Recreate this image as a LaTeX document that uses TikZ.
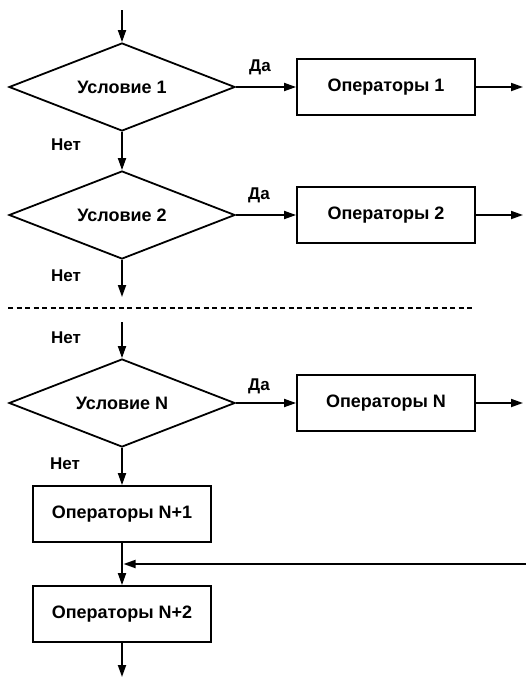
\documentclass[tikz,border=0pt]{standalone}
\usepackage{fontspec}
\setmainfont{Liberation Sans}
\usetikzlibrary{shapes.geometric,arrows.meta}
\tikzset{
  cond/.style={diamond,draw,line width=1.8pt,shape aspect=2.57,minimum width=226pt,minimum height=88pt,inner sep=0pt,font=\bfseries\fontsize{18}{20}\selectfont},
  opbox/.style={rectangle,draw,line width=1.8pt,minimum width=178pt,minimum height=56pt,inner sep=0pt,font=\bfseries\fontsize{18}{20}\selectfont},
  lbl/.style={font=\bfseries\fontsize{17}{19}\selectfont,inner sep=0pt},
  flow/.style={line width=1.8pt,-{Triangle[length=12pt,width=8pt]}}
}
\begin{document}
\begin{tikzpicture}[x=1pt,y=-1pt]
\useasboundingbox (0,0) rectangle (526,678);
% section 1
\coordinate (s1) at (122,10);
\node[cond] (d1) at (122,87) {Условие 1};
\node[opbox] (o1) at (386,87) {Операторы 1};
\coordinate (e1) at (523,87);
\node[cond] (d2) at (122,215) {Условие 2};
\node[opbox] (o2) at (386,215) {Операторы 2};
\coordinate (e2) at (523,215);
\coordinate (x2) at (122,297);
\draw[flow] (s1) -- (d1.north);
\draw[flow] (d1.south) -- (d2.north);
\draw[flow] (d1.east) -- (o1.west);
\draw[flow] (o1.east) -- (e1);
\draw[flow] (d2.east) -- (o2.west);
\draw[flow] (o2.east) -- (e2);
\draw[flow] (d2.south) -- (x2);
\node[lbl] (n1) at (66,145) {Нет};
\node[lbl] (y1) at (260,67) {Да};
\node[lbl] (n2) at (66,276) {Нет};
\node[lbl] (y2) at (259,195) {Да};
% separator
\coordinate (l1) at (8,308);
\coordinate (l2) at (474,308);
\draw[line width=2pt,dash pattern=on 5pt off 3.5pt] (l1) -- (l2);
% section N
\coordinate (sN) at (122,322);
\node[cond] (dN) at (122,403) {Условие N};
\node[opbox] (oN) at (386,403) {Операторы N};
\coordinate (eN) at (523,403);
\node[opbox] (oN1) at (122,514) {Операторы N+1};
\node[opbox] (oN2) at (122,614) {Операторы N+2};
\coordinate (r) at (526,564);
\coordinate (j) at (123.5,564);
\coordinate (xe) at (122,677);
\draw[flow] (sN) -- (dN.north);
\draw[flow] (dN.east) -- (oN.west);
\draw[flow] (oN.east) -- (eN);
\draw[flow] (dN.south) -- (oN1.north);
\draw[flow] (oN1.south) -- (oN2.north);
\draw[flow] (r) -- (j);
\draw[flow] (oN2.south) -- (xe);
\node[lbl] (n3) at (66,338) {Нет};
\node[lbl] (y3) at (259,386) {Да};
\node[lbl] (n4) at (65,464) {Нет};
\end{tikzpicture}
\end{document}
